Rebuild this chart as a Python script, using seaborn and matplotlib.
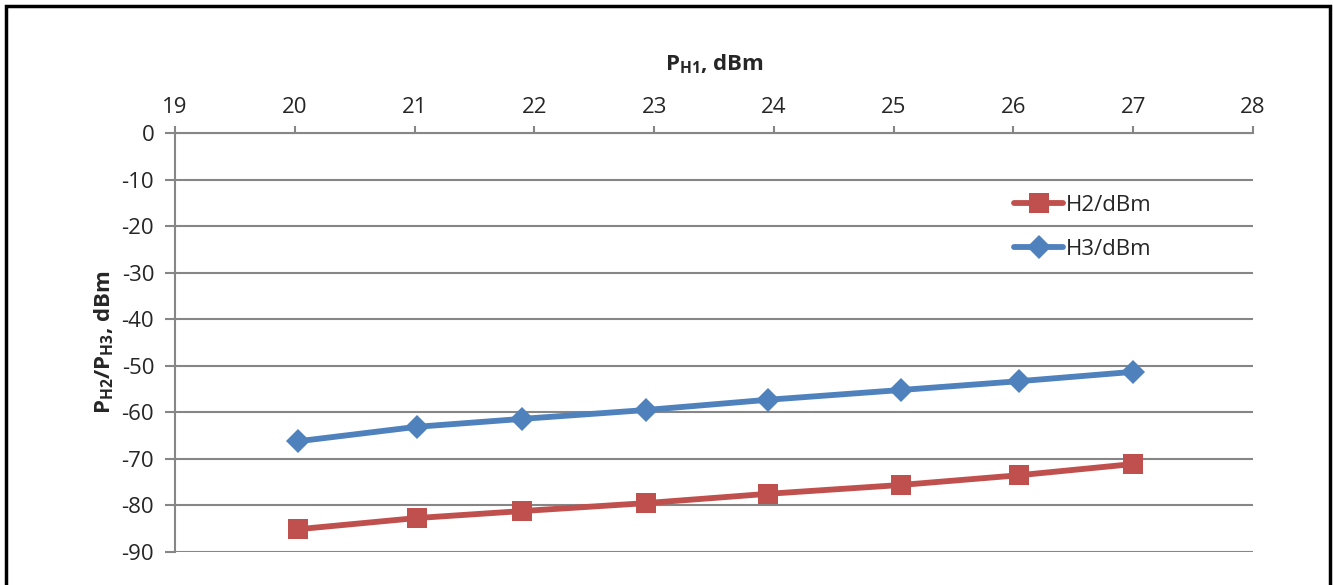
import matplotlib
matplotlib.use("Agg")
import matplotlib.pyplot as plt
from matplotlib.patches import Rectangle
import seaborn as sns
import pandas as pd

# Werte
p_h1 = [20.03, 21.02, 21.9, 22.93, 23.95, 25.06, 26.05, 27.0]
h2_dbm = [-85.1, -82.7, -81.2, -79.5, -77.5, -75.6, -73.5, -71.1]
h3_dbm = [-66.2, -63.1, -61.4, -59.5, -57.3, -55.2, -53.3, -51.3]
x_ticks = [19, 20, 21, 22, 23, 24, 25, 26, 27, 28]
y_ticks = [0, -10, -20, -30, -40, -50, -60, -70, -80, -90]

df = pd.DataFrame({
    "x": p_h1 * 2,
    "y": h2_dbm + h3_dbm,
    "serie": ["H2/dBm"] * len(p_h1) + ["H3/dBm"] * len(p_h1),
})

sns.set_style("white")
plt.rcParams["font.family"] = ["Open Sans", "DejaVu Sans"]
plt.rcParams["axes.unicode_minus"] = False
plt.rcParams["mathtext.fontset"] = "custom"
plt.rcParams["mathtext.rm"] = "Open Sans"
plt.rcParams["mathtext.bf"] = "Open Sans:bold"
plt.rcParams["mathtext.it"] = "Open Sans:italic"

fig = plt.figure(figsize=(13.33, 5.85), dpi=100)
ax = fig.add_axes([0.1313, 0.0564, 0.8087, 0.7162])

farben = {"H2/dBm": "#C0504D", "H3/dBm": "#4F81BD"}
marker = {"H2/dBm": "s", "H3/dBm": "D"}
groessen = {"H2/dBm": 14, "H3/dBm": 12.5}

for name in ["H2/dBm", "H3/dBm"]:
    sns.lineplot(data=df[df.serie == name], x="x", y="y", ax=ax,
                 color=farben[name], marker=marker[name],
                 markersize=groessen[name], markeredgewidth=0,
                 linewidth=4.2, label=name)

ax.set_xlim(19, 28)
ax.set_ylim(-90, 0)
ax.set_xticks(x_ticks)
ax.set_yticks(y_ticks)
ax.xaxis.tick_top()
ax.xaxis.set_label_position("top")

ax.grid(axis="y", color="#868686", linewidth=1.5)
ax.grid(axis="x", visible=False)
for s in ["right", "bottom"]:
    ax.spines[s].set_visible(False)
for s in ["left", "top"]:
    ax.spines[s].set_color("#868686")
    ax.spines[s].set_linewidth(1.5)

ax.tick_params(axis="x", top=True, bottom=False, direction="out", length=5,
               width=1.5, color="#868686", labelsize=16, pad=6)
ax.tick_params(axis="y", left=True, direction="out", length=7, width=1.5,
               color="#868686", labelsize=16, pad=8)

ax.set_xlabel(r"$\mathbf{P_{H1}}$, dBm", fontsize=16, fontweight="bold", labelpad=19)
ax.set_ylabel(r"$\mathbf{P_{H2}/P_{H3}}$, dBm", fontsize=16, fontweight="bold", labelpad=4)

leg = ax.legend(loc="upper left", bbox_to_anchor=(0.76, 0.9), frameon=False,
                fontsize=16, handlelength=2.2, handletextpad=0.1,
                labelspacing=1.05)

# Rahmen um das Diagramm
fig.patches.append(Rectangle((0.0045, -0.1), 0.993, 1.09, transform=fig.transFigure,
                             fill=False, edgecolor="black", linewidth=2.5))

fig.savefig("out.png", dpi=100)
